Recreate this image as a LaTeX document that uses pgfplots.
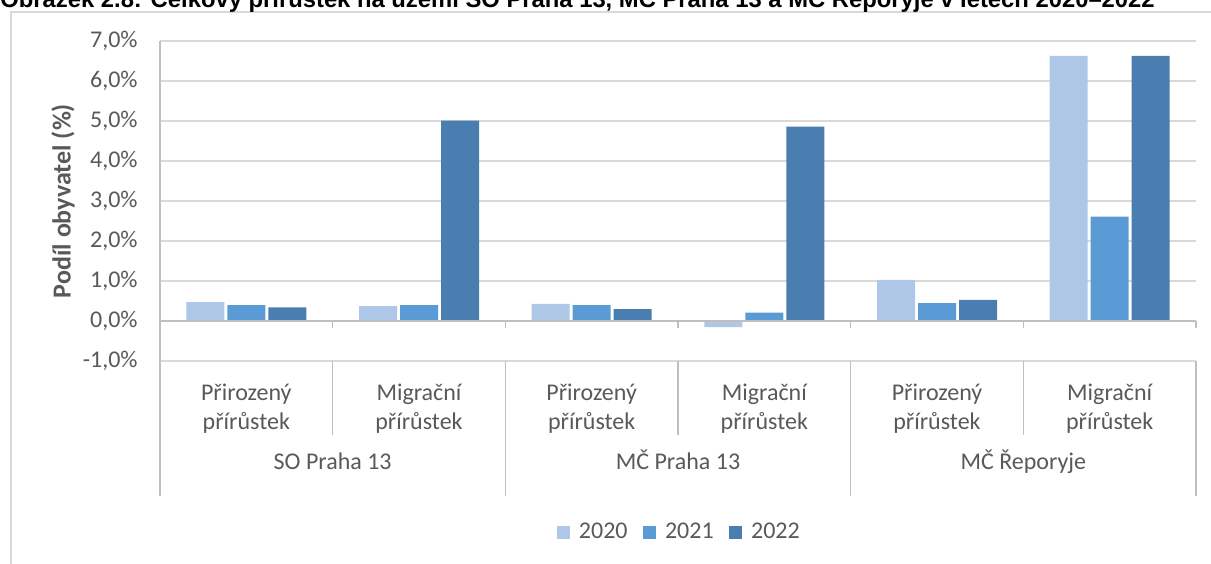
\documentclass[border=0pt]{standalone}
\usepackage{fontspec}
\setmainfont{Carlito}
\newfontfamily\titlefont{Liberation Sans}
\usepackage{pgfplots}
\pgfplotsset{compat=1.18}
\definecolor{cA}{RGB}{175,199,230}
\definecolor{cB}{RGB}{91,155,213}
\definecolor{cC}{RGB}{74,126,176}
\definecolor{txt}{RGB}{89,89,89}
\definecolor{gridc}{RGB}{217,217,217}
\definecolor{axl}{RGB}{191,191,191}
\definecolor{framec}{RGB}{217,217,217}
\tikzset{catlab/.style={anchor=base, inner sep=0pt, text=txt, font=\fontsize{12}{14}\selectfont}}
\begin{document}
\begin{tikzpicture}
\draw[framec, line width=1pt] (5.5pt,-20pt) -- (5.5pt,275.5pt) -- (640pt,275.5pt);
\node[anchor=base west, inner sep=0pt, font=\titlefont\bfseries\fontsize{11.9}{13}\selectfont] at (0pt,277.5pt)
  {Obrázek 2.8: Celkový přírůstek na území SO Praha 13, MČ Praha 13 a MČ Řeporyje v letech 2020–2022};
\begin{axis}[
  at={(80pt,101pt)}, anchor=south west,
  scale only axis, width=518pt, height=160pt,
  xmin=-0.5, xmax=5.5, ymin=-1, ymax=7,
  ybar=1.5pt, bar width=19pt,
  clip=false,
  axis line style={draw=none},
  major tick length=0pt,
  xtick=\empty,
  ytick={-1,0,1,2,3,4,5,6,7},
  yticklabels={{-1,0\%},{0,0\%},{1,0\%},{2,0\%},{3,0\%},{4,0\%},{5,0\%},{6,0\%},{7,0\%}},
  yticklabel style={font=\fontsize{12}{14}\selectfont, text=txt, anchor=east, inner sep=0pt, xshift=-11pt},
  ymajorgrids, grid style={gridc, line width=0.7pt},
  legend columns=-1,
  legend style={at={(rel axis cs:0.502,0)}, anchor=center, yshift=-85.75pt, draw=none, fill=none,
    font=\fontsize{12}{14}\selectfont, text=txt, inner sep=0pt,
    nodes={inner sep=1.7pt},
    /tikz/every even column/.append style={column sep=6pt}},
  legend image code/.code={\fill[#1] (0pt,-3.15pt) rectangle (6.3pt,3.15pt);},
]
\addplot[fill=cA, draw=none] coordinates {(0,0.47) (1,0.37) (2,0.43) (3,-0.15) (4,1.03) (5,6.63)};
\addplot[fill=cB, draw=none] coordinates {(0,0.40) (1,0.40) (2,0.40) (3,0.21) (4,0.45) (5,2.61)};
\addplot[fill=cC, draw=none] coordinates {(0,0.34) (1,5.01) (2,0.30) (3,4.86) (4,0.53) (5,6.63)};
\legend{\hspace*{3pt}2020,\hspace*{3pt}2021,\hspace*{3pt}2022}
% zero axis line with ticks
\draw[axl, line width=0.8pt] (axis cs:-0.5,0) -- (axis cs:5.5,0);
\pgfplotsinvokeforeach{-0.5,0.5,1.5,2.5,3.5,4.5,5.5}{
  \draw[axl, line width=0.8pt] (axis cs:#1,0) -- ++(0pt,-3.5pt);
}
% left axis line
\draw[axl, line width=0.8pt] (axis cs:-0.5,7) -- (axis cs:-0.5,-1) -- ++(0pt,-67.5pt);
\pgfplotsinvokeforeach{1.5,3.5,5.5}{
  \draw[axl, line width=0.8pt] (axis cs:#1,-1) -- ++(0pt,-67.5pt);
}
\pgfplotsinvokeforeach{0.5,2.5,4.5}{
  \draw[axl, line width=0.8pt] (axis cs:#1,-1) -- ++(0pt,-37pt);
}
% category labels
\pgfplotsinvokeforeach{0,2,4}{
  \node[catlab] at ([yshift=-19.85pt]axis cs:#1,-1) {Přirozený};
  \node[catlab] at ([yshift=-34pt]axis cs:#1,-1) {přírůstek};
}
\pgfplotsinvokeforeach{1,3,5}{
  \node[catlab] at ([yshift=-19.85pt]axis cs:#1,-1) {Migrační};
  \node[catlab] at ([yshift=-34pt]axis cs:#1,-1) {přírůstek};
}
\node[catlab] at ([yshift=-54pt]axis cs:0.5,-1) {SO Praha 13};
\node[catlab] at ([yshift=-54pt]axis cs:2.5,-1) {MČ Praha 13};
\node[catlab] at ([yshift=-54pt]axis cs:4.5,-1) {MČ Řeporyje};
\end{axis}
\node[rotate=90, inner sep=0pt, text=txt, font=\bfseries\fontsize{13}{15}\selectfont] at (31.5pt,181pt) {Podíl obyvatel (\%)};
\pgfresetboundingbox
\path[use as bounding box] (0,0) rectangle (605.5pt,281.5pt);
\end{tikzpicture}
\end{document}
